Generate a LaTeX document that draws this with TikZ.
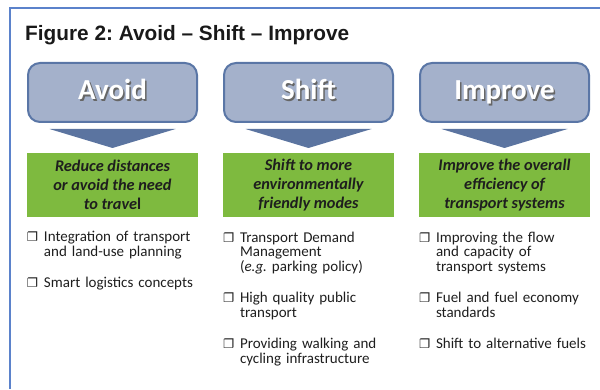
\documentclass[tikz,border=0pt]{standalone}
\usepackage{fontspec}
\setmainfont{Carlito}
\newfontfamily\titlefont{Liberation Sans}
\newfontfamily\symfont{DejaVu Sans}
\usetikzlibrary{calc,positioning}
\definecolor{framebl}{HTML}{5B82CB}
\definecolor{boxfill}{HTML}{A4B1CB}
\definecolor{boxline}{HTML}{5A76A6}
\definecolor{arrowbl}{HTML}{5B74A0}
\definecolor{goalgr}{HTML}{7EBA3F}
\definecolor{txtdark}{HTML}{1E1E1E}
\newcommand{\shtext}[1]{\makebox[0pt][l]{\hspace{1.6pt}\raisebox{-1.6pt}{\textcolor{black!60}{#1}}}\textcolor{white}{#1}}
\newcommand{\bx}{{\symfont\fontsize{12.5}{12}\selectfont ❐}}
\newcommand{\bitem}[1]{\hangindent=17pt\hangafter=1\noindent\makebox[17pt][l]{\bx}#1\par}
\newcommand{\bgap}{\vspace{16.5pt}}
\frenchspacing

\begin{document}
\begin{tikzpicture}[x=1pt,y=1pt,
    pillar/.style={draw=boxline, line width=2pt, fill=boxfill, rounded corners=12pt,
      minimum width=169pt, minimum height=59pt, inner sep=0pt,
      text height=20pt, text depth=6pt,
      font=\bfseries\fontsize{29}{30}\selectfont},
    goal/.style={fill=goalgr, minimum width=171pt, minimum height=64pt, inner sep=0pt,
      align=center, text=txtdark, font=\bfseries\itshape\fontsize{16.3}{19}\selectfont},
    items/.style={anchor=north west, text width=171pt, inner sep=0pt, align=left,
      text=txtdark, font=\fontsize{15}{14.7}\selectfont},
    downarr/.style={fill=arrowbl}]
  \useasboundingbox (0,0) rectangle (600,389);
  % frame
  \draw[framebl, line width=1.3pt] (600,381) -- (10,381) -- (10,0);
  \node[anchor=base west, inner sep=0pt, text=black!90,
    font=\titlefont\bfseries\fontsize{20.8}{23}\selectfont] (title) at (25,348)
    {Figure 2: Avoid \textendash{} Shift \textendash{} Improve};

  % the three pillars
  \node[pillar] (avoid) at (112.5,296.5) {\shtext{Avoid}};
  \node[pillar, right=25pt of avoid] (shift) {\shtext{Shift}};
  \node[pillar, right=25pt of shift] (improve) {\shtext{Improve}};

  \node[goal, below=30pt of avoid] (avoidgoal) {Reduce distances\\or avoid the need\\to trave{\upshape l}};
  \node[goal, below=30pt of shift] (shiftgoal) {Shift to more\\environmentally\\friendly modes};
  \node[goal, below=30pt of improve] (improvegoal) {Improve the overall\\efficiency of\\transport systems};

  \fill[downarr] ($(avoid.south)+(-63,-6)$) -- ($(avoid.south)+(63,-6)$) -- ($(avoidgoal.north)+(0,5)$) -- cycle;
  \fill[downarr] ($(shift.south)+(-63,-6)$) -- ($(shift.south)+(63,-6)$) -- ($(shiftgoal.north)+(0,5)$) -- cycle;
  \fill[downarr] ($(improve.south)+(-63,-6)$) -- ($(improve.south)+(63,-6)$) -- ($(improvegoal.north)+(0,5)$) -- cycle;

  % measures
  \node[items] (avoidlist) at ($(avoidgoal.south west)+(0,-14)$) {%
    \bitem{Integration of transport\newline and land-use planning}\bgap
    \bitem{Smart logistics concepts}};
  \node[items] (shiftlist) at ($(shiftgoal.south west)+(0,-14)$) {%
    \bitem{Transport Demand\newline Management\newline (\textit{e.g.} parking policy)}\bgap
    \bitem{High quality public\newline transport}\bgap
    \bitem{Providing walking and\newline cycling infrastructure}};
  \node[items] (improvelist) at ($(improvegoal.south west)+(0,-14)$) {%
    \bitem{Improving the flow\newline and capacity of\newline transport systems}\bgap
    \bitem{Fuel and fuel economy\newline standards}\bgap
    \bitem{Shift to alternative fuels}};
\end{tikzpicture}
\end{document}
